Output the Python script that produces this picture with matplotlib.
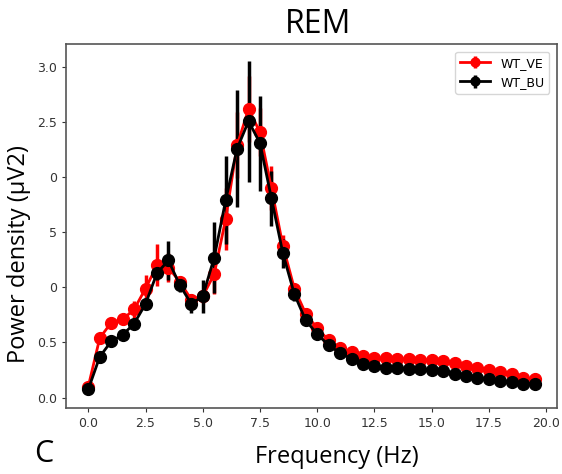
import matplotlib
matplotlib.use("Agg")
import matplotlib.pyplot as plt
import numpy as np

# frecuencias (Hz)
freq = np.arange(0, 20, 0.5)

wt_ve = [0.10, 0.54, 0.68, 0.71, 0.80, 0.99, 1.20, 1.18, 1.05, 0.89,
         0.92, 1.12, 1.62, 2.29, 2.62, 2.41, 1.90, 1.38, 0.99, 0.76,
         0.63, 0.52, 0.45, 0.41, 0.375, 0.36, 0.355, 0.35, 0.35, 0.345,
         0.34, 0.33, 0.315, 0.285, 0.27, 0.25, 0.235, 0.21, 0.18, 0.165]
wt_ve_err = [0.02, 0.04, 0.05, 0.05, 0.08, 0.12, 0.19, 0.13, 0.05, 0.05,
             0.06, 0.18, 0.28, 0.30, 0.30, 0.22, 0.20, 0.10, 0.05, 0.03,
             0.02, 0.02, 0.02, 0.02, 0.02, 0.02, 0.02, 0.02, 0.02, 0.02,
             0.02, 0.02, 0.02, 0.02, 0.02, 0.02, 0.02, 0.02, 0.02, 0.02]

wt_bu = [0.075, 0.37, 0.51, 0.57, 0.67, 0.85, 1.13, 1.245, 1.02, 0.85,
         0.92, 1.27, 1.79, 2.26, 2.51, 2.31, 1.81, 1.31, 0.94, 0.70,
         0.576, 0.474, 0.405, 0.351, 0.30, 0.285, 0.27, 0.27, 0.261, 0.255,
         0.249, 0.24, 0.21, 0.20, 0.18, 0.165, 0.15, 0.145, 0.126, 0.126]
wt_bu_err = [0.02, 0.03, 0.03, 0.03, 0.04, 0.05, 0.06, 0.18, 0.06, 0.08,
             0.15, 0.32, 0.40, 0.53, 0.55, 0.43, 0.25, 0.13, 0.06, 0.03,
             0.02, 0.02, 0.02, 0.02, 0.02, 0.02, 0.02, 0.02, 0.02, 0.02,
             0.02, 0.02, 0.02, 0.02, 0.02, 0.02, 0.02, 0.02, 0.02, 0.02]

yticks = [0.0, 0.5, 1.0, 1.5, 2.0, 2.5, 3.0]
ytick_labels = ["0.0", "0.5", "0", "5", "0", "2.5", "3.0"]
xticks = [0.0, 2.5, 5.0, 7.5, 10.0, 12.5, 15.0, 17.5, 20.0]

fig = plt.figure(figsize=(5.62, 4.74), dpi=100)
ax = fig.add_axes([0.1174, 0.1392, 0.8737, 0.7679])

ax.errorbar(freq, wt_ve, yerr=wt_ve_err, color="red", ecolor="red",
            marker="o", markersize=8.5, linewidth=2, elinewidth=2.5,
            capsize=0, label="WT_VE")
ax.errorbar(freq, wt_bu, yerr=wt_bu_err, color="black", ecolor="black",
            marker="o", markersize=8.5, linewidth=2, elinewidth=2.5,
            capsize=0, label="WT_BU")

ax.set_xticks(xticks)
ax.set_yticks(yticks)
ax.set_yticklabels(ytick_labels)
ax.tick_params(labelsize=9, colors="#333333", length=3)
for s in ax.spines.values():
    s.set_color("#555555")
    s.set_linewidth(1.2)

ax.legend(loc="upper right", fontsize=9, handlelength=2.4, borderaxespad=0.6,
          markerscale=0.75)

fig.text(0.566, 0.93, "REM", fontsize=23, family="Open Sans", ha="center", va="baseline")
fig.text(0.6, 0.023, "Frequency (Hz)", fontsize=17, family="Open Sans", ha="center", va="baseline")
fig.text(0.034, 0.464, "Power density (\u03bcV2)", fontsize=17, family="Open Sans",
         ha="center", va="center", rotation=90)
fig.text(0.06, 0.025, "C", fontsize=22, family="Open Sans", ha="left", va="baseline")

plt.savefig("out.png")
plt.close()
